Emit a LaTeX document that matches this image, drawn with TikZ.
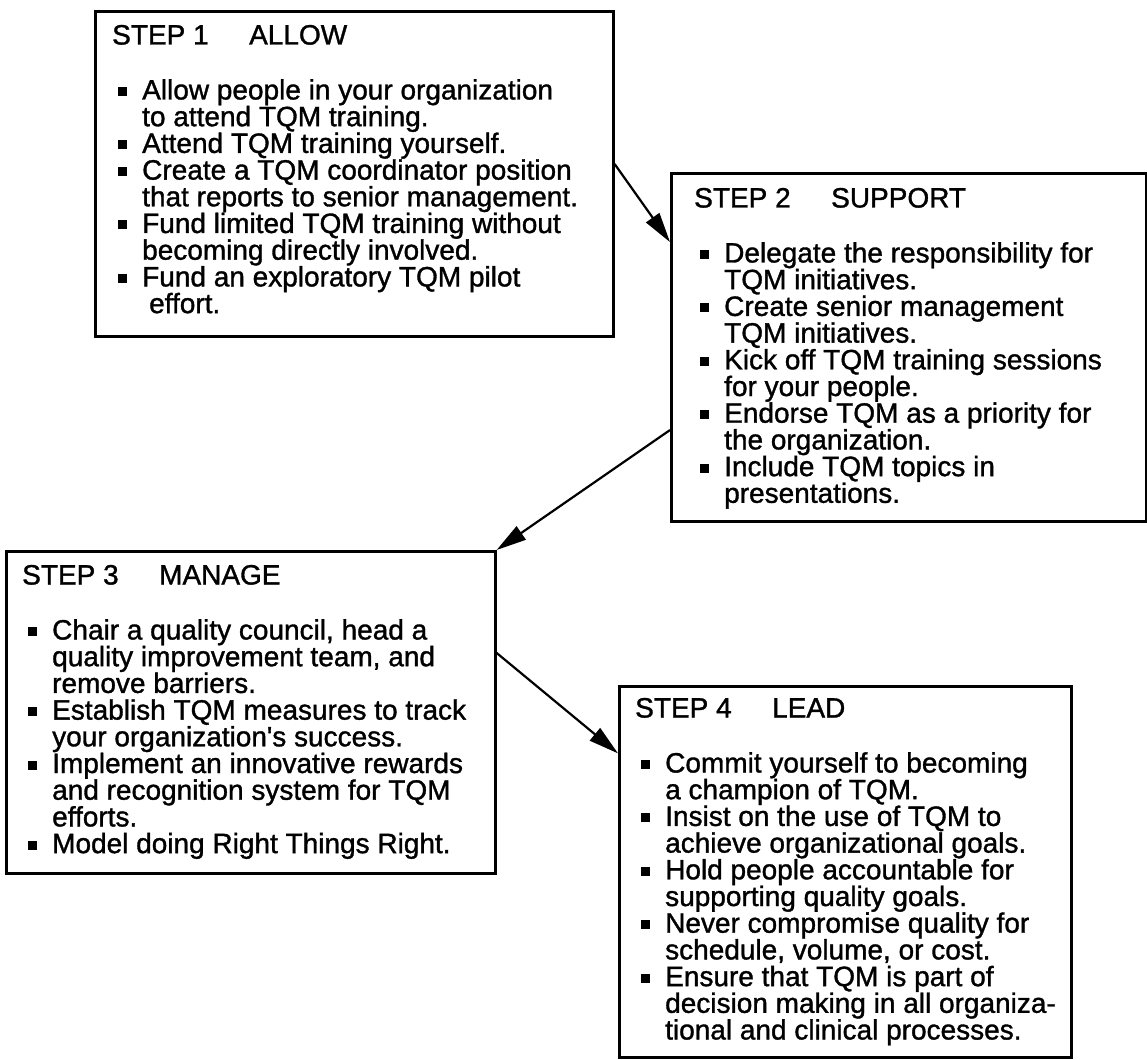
\documentclass[tikz,border=0pt]{standalone}
\usepackage{fontspec}
\setmainfont{Liberation Sans}[FakeBold=0]
\newfontfamily\stepfont{Liberation Sans}[FakeBold=1.2]
\usetikzlibrary{arrows.meta,calc}

% filled square bullet
\newcommand{\sqb}{\rule[3.5pt]{8.5pt}{9pt}}
% heading line: step number, then the step name
\newcommand{\ttl}[2]{\hbox{\makebox[137pt][l]{#1}#2}\vskip 28.3pt}
% first line of a bullet item
\newcommand{\itm}[1]{\hbox{\hspace{6pt}\makebox[24pt][l]{\sqb}#1}}
% continuation line of a bullet item
\newcommand{\cnt}[1]{\hbox{\hspace{30pt}#1}}
% stack of lines with fixed line pitch, baseline at the first line
\newcommand{\stk}[1]{\vtop{\baselineskip=26.7pt\lineskiplimit=-100pt\lineskip=0pt\relax #1}}

\tikzset{
  stepbox/.style={draw, line width=2.6pt, rectangle, inner sep=0pt, anchor=north west},
  steptext/.style={anchor=base west, inner sep=0pt, font=\stepfont\fontsize{28}{26.7}\selectfont},
  arr/.style={line width=2.2pt, -{Triangle[length=30pt,width=16pt]}}
}

\begin{document}
\begin{tikzpicture}[x=1pt,y=-1pt]
\useasboundingbox (0,0) rectangle (1147,1059);
\fill[white] (0,0) rectangle (1147,1059);

% frames
\node[stepbox, minimum width=518pt, minimum height=325pt] (b1) at (94,10) {};
\node[stepbox, minimum width=475pt, minimum height=348pt] (b2) at (670,172) {};
\node[stepbox, minimum width=489pt, minimum height=322pt] (b3) at (5,550) {};
\node[stepbox, minimum width=452pt, minimum height=371pt] (b4) at (618,685) {};

% contents
\node[steptext] (t1) at (112,44.5) {\stk{%
  \ttl{STEP 1}{ALLOW}
  \itm{Allow people in your organization}
  \cnt{to attend TQM training.}
  \itm{Attend TQM training yourself.}
  \itm{Create a TQM coordinator position}
  \cnt{that reports to senior management.}
  \itm{Fund limited TQM training without}
  \cnt{becoming directly involved.}
  \itm{Fund an exploratory TQM pilot}
  \cnt{\hspace{7pt}effort.}}};

\node[steptext] (t2) at (694,207.5) {\stk{%
  \ttl{STEP 2}{SUPPORT}
  \itm{Delegate the responsibility for}
  \cnt{TQM initiatives.}
  \itm{Create senior management}
  \cnt{TQM initiatives.}
  \itm{Kick off TQM training sessions}
  \cnt{for your people.}
  \itm{Endorse TQM as a priority for}
  \cnt{the organization.}
  \itm{Include TQM topics in}
  \cnt{presentations.}}};

\node[steptext] (t3) at (22,584.5) {\stk{%
  \ttl{STEP 3}{MANAGE}
  \itm{Chair a quality council, head a}
  \cnt{quality improvement team, and}
  \cnt{remove barriers.}
  \itm{Establish TQM measures to track}
  \cnt{your organization's success.}
  \itm{Implement an innovative rewards}
  \cnt{and recognition system for TQM}
  \cnt{efforts.}
  \itm{Model doing Right Things Right.}}};

\node[steptext] (t4) at (635,717.5) {\stk{%
  \ttl{STEP 4}{LEAD}
  \itm{Commit yourself to becoming}
  \cnt{a champion of TQM.}
  \itm{Insist on the use of TQM to}
  \cnt{achieve organizational goals.}
  \itm{Hold people accountable for}
  \cnt{supporting quality goals.}
  \itm{Never compromise quality for}
  \cnt{schedule, volume, or cost.}
  \itm{Ensure that TQM is part of}
  \cnt{decision making in all organiza-}
  \cnt{tional and clinical processes.}}};

% connectors
\draw[arr] ($(b1.north east)!0.47!(b1.south east)$) -- ($(b2.north west)!0.2!(b2.south west)$);
\draw[arr] ($(b2.north west)!0.736!(b2.south west)$) -- (b3.north east);
\draw[arr] ($(b3.north east)!0.317!(b3.south east)$) -- ($(b4.north west)!0.183!(b4.south west)$);
\end{tikzpicture}
\end{document}
